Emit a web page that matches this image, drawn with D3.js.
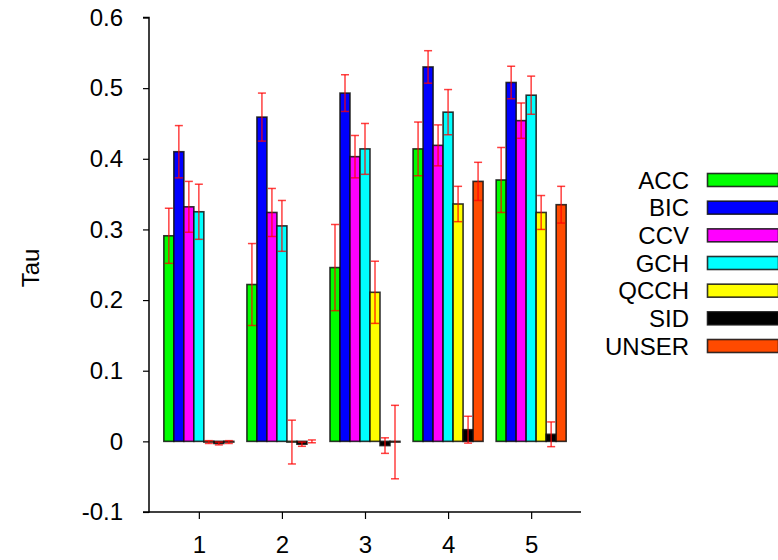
<!DOCTYPE html>
<html>
<head>
<meta charset="utf-8">
<script src="https://cdn.jsdelivr.net/npm/d3@7"></script>
<style>
  html, body { margin: 0; padding: 0; background: #fff; }
  svg { display: block; }
  text { font-family: "Liberation Sans", Arial, Helvetica, sans-serif; }
</style>
</head>
<body>
<svg id="chart" width="778" height="560"></svg>
<script>
const categories = [1, 2, 3, 4, 5];
const seriesNames = ["ACC", "BIC", "CCV", "GCH", "QCCH", "SID", "UNSER"];
const seriesColors = ["#00ff00", "#0000ff", "#ff00ff", "#00ffff", "#ffff00", "#000000", "#ff4a00"];
// values[series][category]
const ACC   = [0.291, 0.222, 0.246, 0.414, 0.370];
const BIC   = [0.410, 0.459, 0.493, 0.530, 0.508];
const CCV   = [0.332, 0.324, 0.403, 0.419, 0.454];
const GCH   = [0.325, 0.305, 0.414, 0.466, 0.490];
const QCCH  = [-0.001, -0.001, 0.211, 0.336, 0.324];
const SID   = [-0.003, -0.004, -0.006, 0.0165, 0.010];
const UNSER = [-0.001, 0.000, -0.001, 0.368, 0.335];
// error half-widths
const ACC_err   = [0.039, 0.058, 0.061, 0.038, 0.046];
const BIC_err   = [0.037, 0.034, 0.026, 0.023, 0.023];
const CCV_err   = [0.036, 0.034, 0.030, 0.029, 0.025];
const GCH_err   = [0.039, 0.036, 0.036, 0.032, 0.027];
const QCCH_err  = [0.002, 0.031, 0.044, 0.025, 0.024];
const SID_err   = [0.002, 0.003, 0.011, 0.019, 0.0175];
const UNSER_err = [0.002, 0.002, 0.052, 0.027, 0.026];
const yTicks = [-0.1, 0, 0.1, 0.2, 0.3, 0.4, 0.5, 0.6];
const yTickLabels = ["-0.1", "0", "0.1", "0.2", "0.3", "0.4", "0.5", "0.6"];
const yLabel = "Tau";

const values = [ACC, BIC, CCV, GCH, QCCH, SID, UNSER];
const errors = [ACC_err, BIC_err, CCV_err, GCH_err, QCCH_err, SID_err, UNSER_err];
const FS = 24;

const svg = d3.select("#chart");
const x = d3.scaleLinear().domain([0.4, 5.6]).range([149, 581]);
const y = d3.scaleLinear().domain([-0.1, 0.6]).range([512, 17.5]);
const inner = d3.scaleBand().domain(seriesNames).range([-35, 35]);
const bw = inner.bandwidth();

const data = [];
seriesNames.forEach((s, si) => {
  categories.forEach((c, ci) => {
    data.push({ s, si, c, v: values[si][ci], e: errors[si][ci] });
  });
});

// bars
svg.append("g").selectAll("rect").data(data).join("rect")
  .attr("x", d => x(d.c) + inner(d.s))
  .attr("width", bw)
  .attr("y", d => Math.min(y(d.v), y(0)))
  .attr("height", d => Math.abs(y(d.v) - y(0)))
  .attr("fill", d => seriesColors[d.si])
  .attr("stroke", "#111")
  .attr("stroke-opacity", 0.85)
  .attr("stroke-width", 1.6);

// error bars
const eg = svg.append("g").attr("stroke", "#ff0000").attr("stroke-opacity", 0.75).attr("stroke-width", 1.5);
data.forEach(d => {
  const cx = x(d.c) + inner(d.s) + bw / 2;
  const y1 = y(d.v + d.e), y2 = y(d.v - d.e);
  eg.append("line").attr("x1", cx).attr("x2", cx).attr("y1", y1).attr("y2", y2);
  eg.append("line").attr("x1", cx - 4).attr("x2", cx + 4).attr("y1", y1).attr("y2", y1);
  eg.append("line").attr("x1", cx - 4).attr("x2", cx + 4).attr("y1", y2).attr("y2", y2);
});

// y axis
const yAxis = d3.axisLeft(y).tickValues(yTicks).tickSize(6).tickPadding(20)
  .tickFormat((d, i) => yTickLabels[i]);
const gy = svg.append("g").attr("transform", "translate(149,0)").call(yAxis);
gy.select(".domain").attr("stroke", "#000").attr("stroke-width", 1.5).attr("d", "M-6,17.5H0V512H-6");
gy.selectAll(".tick line").attr("stroke", "#000").attr("stroke-width", 1.2);
gy.selectAll(".tick text").attr("font-size", FS).attr("fill", "#000")
  .attr("font-family", "Liberation Sans, Arial, sans-serif");

// x axis
const xAxis = d3.axisBottom(x).tickValues(categories).tickSize(7).tickPadding(17).tickFormat(d => String(d));
const gx = svg.append("g").attr("transform", "translate(0,512)").call(xAxis);
gx.select(".domain").attr("stroke", "#000").attr("stroke-width", 1.5).attr("d", "M149,0H581");
gx.selectAll(".tick line").attr("stroke", "#000").attr("stroke-width", 1.2);
gx.selectAll(".tick text").attr("font-size", FS).attr("fill", "#000")
  .attr("font-family", "Liberation Sans, Arial, sans-serif");

// y label
svg.append("text").attr("transform", "translate(39,268) rotate(-90)")
  .attr("text-anchor", "middle").attr("font-size", FS).text(yLabel);

// legend
const ly = d3.scalePoint().domain(seriesNames).range([180, 346]);
const lg = svg.append("g");
seriesNames.forEach((s, i) => {
  lg.append("text").attr("x", 689).attr("y", ly(s)).attr("dy", "0.36em")
    .attr("text-anchor", "end").attr("font-size", FS).text(s);
  lg.append("rect").attr("x", 707.5).attr("y", ly(s) - 6.5).attr("width", 71).attr("height", 13)
    .attr("fill", seriesColors[i]).attr("stroke", "#111").attr("stroke-width", 1.6).attr("stroke-opacity", 0.85);
});
</script>
</body>
</html>
